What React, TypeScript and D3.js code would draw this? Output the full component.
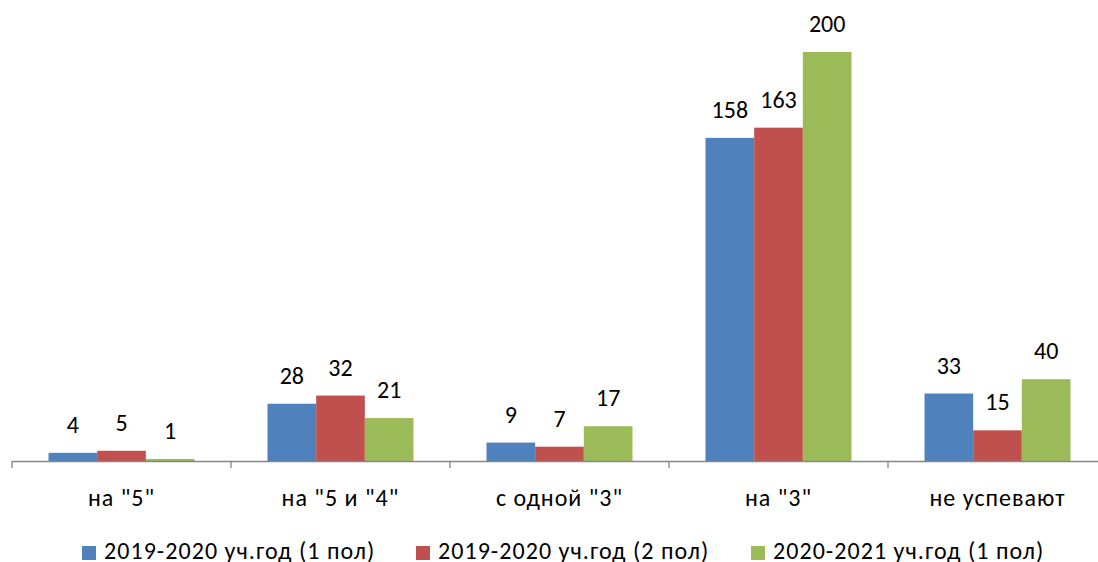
import React from "react";
import * as d3 from "d3";

const categories = ['на "5"', 'на "5 и "4"', 'с одной "3"', 'на "3"', "не успевают"];
const seriesNames = [
  "2019-2020 уч.год (1 пол)",
  "2019-2020 уч.год (2 пол)",
  "2020-2021 уч.год (1 пол)",
];
const series1 = [4, 28, 9, 158, 33];
const series2 = [5, 32, 7, 163, 15];
const series3 = [1, 21, 17, 200, 40];
const colors = ["#4F81BD", "#C0504D", "#9BBB59"];

const W = 1098;
const H = 562;
const FONT = "Carlito, Calibri, Lato, 'Open Sans', sans-serif";

export default function App() {
  const allSeries = [series1, series2, series3];
  const x = d3.scaleBand<string>().domain(categories).range([12, 1107]).padding(0);
  const xi = d3
    .scaleBand<number>()
    .domain([0, 1, 2])
    .range([0, x.bandwidth()])
    .paddingInner(0)
    .paddingOuter(0.75);
  const y = d3.scaleLinear().domain([0, 200]).range([461, 52]);

  const ticks = categories.map((c) => x(c)!).concat([x(categories[4])! + x.bandwidth()]);

  const legendX = [82, 416, 751];

  return (
    <div style={{ position: "absolute", left: 0, top: 0 }}>
      <svg width={W} height={H} style={{ display: "block", fontFamily: FONT }}>
        <rect width={W} height={H} fill="#fff" />
        {allSeries.map((vals, si) =>
          categories.map((c, ci) => {
            const bx = x(c)! + xi(si)!;
            const by = y(vals[ci]);
            return (
              <g key={`${si}-${ci}`}>
                <rect
                  x={bx}
                  y={by}
                  width={xi.bandwidth()}
                  height={y(0) - by}
                  fill={colors[si]}
                />
                <text
                  x={bx + xi.bandwidth() / 2}
                  y={by - 20}
                  textAnchor="middle"
                  fontSize={24}
                  fill="#000"
                >
                  {vals[ci]}
                </text>
              </g>
            );
          })
        )}
        <line x1={12} x2={W} y1={461.5} y2={461.5} stroke="#868686" strokeWidth={1.3} />
        {ticks.map((t, i) => (
          <line key={i} x1={t} x2={t} y1={461} y2={468} stroke="#868686" strokeWidth={1.3} />
        ))}
        {categories.map((c) => (
          <text
            key={c}
            x={x(c)! + x.bandwidth() / 2}
            y={505.5}
            textAnchor="middle"
            fontSize={24}
            letterSpacing={1}
            fill="#000"
          >
            {c}
          </text>
        ))}
        {seriesNames.map((s, i) => (
          <g key={s}>
            <rect x={legendX[i]} y={546} width={14} height={14} fill={colors[i]} />
            <text x={legendX[i] + 22} y={558.5} fontSize={24} letterSpacing={1.05} fill="#000">
              {s}
            </text>
          </g>
        ))}
      </svg>
    </div>
  );
}
